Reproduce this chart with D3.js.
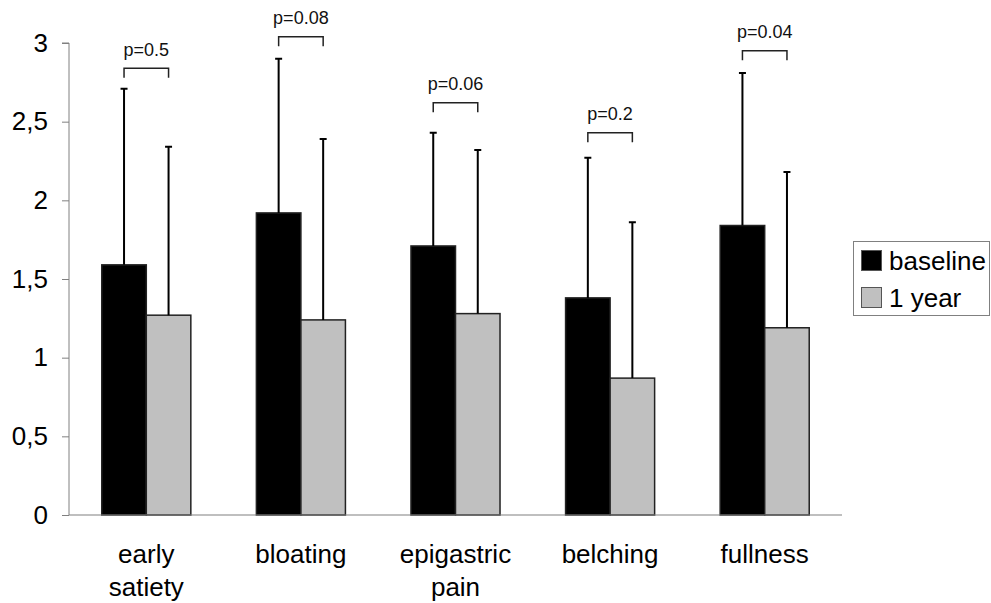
<!DOCTYPE html>
<html>
<head>
<meta charset="utf-8">
<script src="https://cdn.jsdelivr.net/npm/d3@7"></script>
<style>
  body { margin: 0; background: #fff; }
  svg { display: block; font-family: "Liberation Sans", Arial, sans-serif; }
</style>
</head>
<body>
<div id="chart"></div>
<script>
// symptom scores, baseline vs 1 year

const categories = ["early satiety", "bloating", "epigastric pain", "belching", "fullness"];
const categoryLines = [["early", "satiety"], ["bloating"], ["epigastric", "pain"], ["belching"], ["fullness"]];
const seriesNames = ["baseline", "1 year"];
const baselineValues = [1.59, 1.92, 1.71, 1.38, 1.84];
const yearValues = [1.27, 1.24, 1.28, 0.87, 1.19];
const baselineSD = [1.12, 0.98, 0.72, 0.89, 0.97];
const yearSD = [1.07, 1.15, 1.04, 0.99, 0.99];
const pLabels = ["p=0.5", "p=0.08", "p=0.06", "p=0.2", "p=0.04"];
const bracketLevels = [2.84, 3.04, 2.62, 2.43, 2.95];
const yTicks = [0, 0.5, 1, 1.5, 2, 2.5, 3];

const colors = {"baseline": "#000000", "1 year": "#c0c0c0"};

const W = 991, H = 603;
const plot = {left: 69, right: 842, top: 43, bottom: 515};

const svg = d3.select("#chart").append("svg")
    .attr("width", W)
    .attr("height", H);

const x0 = d3.scaleBand()
    .domain(categories)
    .range([plot.left, plot.right])
    .paddingInner(0.424)
    .paddingOuter(0.212);

const x1 = d3.scaleBand()
    .domain(seriesNames)
    .range([0, x0.bandwidth()]);

const y = d3.scaleLinear()
    .domain([0, 3])
    .range([plot.bottom, plot.top]);

const rows = categories.map((c, i) => ({
    cat: c,
    values: [
        {name: "baseline", v: baselineValues[i], sd: baselineSD[i]},
        {name: "1 year", v: yearValues[i], sd: yearSD[i]}
    ]
}));

// y axis
const yAxis = svg.append("g")
    .attr("transform", `translate(${plot.left},0)`)
    .call(d3.axisLeft(y).tickValues(yTicks).tickSize(7).tickPadding(14)
        .tickFormat(d => String(d).replace(".", ",")));
yAxis.select(".domain").attr("stroke", "#808080").attr("d", `M-7,${plot.top}H0V${plot.bottom}`);
yAxis.selectAll(".tick line").attr("stroke", "#808080");
yAxis.selectAll(".tick text")
    .attr("font-size", 26)
    .attr("fill", "#000")
    .style("font-family", "Liberation Sans, Arial, sans-serif");

// bars
const groups = svg.selectAll(".grp")
    .data(rows)
    .enter().append("g")
    .attr("class", "grp")
    .attr("transform", d => `translate(${x0(d.cat)},0)`);

groups.selectAll("rect")
    .data(d => d.values)
    .enter().append("rect")
    .attr("x", d => x1(d.name))
    .attr("y", d => y(d.v))
    .attr("width", x1.bandwidth())
    .attr("height", d => y(0) - y(d.v))
    .attr("fill", d => colors[d.name])
    .attr("stroke", "#222")
    .attr("stroke-width", 1.5);

// error bars (upper only)
const cap = 3.5;
groups.selectAll(".err")
    .data(d => d.values)
    .enter().append("path")
    .attr("class", "err")
    .attr("fill", "none")
    .attr("stroke", "#000")
    .attr("stroke-width", 2)
    .attr("d", d => {
        const cx = x1(d.name) + x1.bandwidth() / 2;
        const top = y(d.v + d.sd);
        return `M${cx},${y(d.v)}V${top}M${cx - cap},${top}H${cx + cap}`;
    });

// x axis line
svg.append("line")
    .attr("x1", plot.left).attr("x2", plot.right)
    .attr("y1", plot.bottom).attr("y2", plot.bottom)
    .attr("stroke", "#808080")
    .attr("stroke-width", 1.2);

// p-value brackets
groups.each(function(d, i) {
    const g = d3.select(this);
    const xa = x1("baseline") + x1.bandwidth() / 2;
    const xb = x1("1 year") + x1.bandwidth() / 2;
    const by = y(bracketLevels[i]);
    g.append("path")
        .attr("fill", "none")
        .attr("stroke", "#222")
        .attr("stroke-width", 1.5)
        .attr("d", `M${xa},${by + 9.5}V${by}H${xb}V${by + 9.5}`);
    g.append("text")
        .attr("x", (xa + xb) / 2)
        .attr("y", by - 12.5)
        .attr("text-anchor", "middle")
        .attr("font-size", 18)
        .attr("fill", "#111")
        .text(pLabels[i]);
});

// category labels
categories.forEach((c, i) => {
    const t = svg.append("text")
        .attr("x", x0(c) + x0.bandwidth() / 2)
        .attr("y", 563)
        .attr("text-anchor", "middle")
        .attr("font-size", 26)
        .attr("fill", "#000");
    categoryLines[i].forEach((line, j) => {
        t.append("tspan")
            .attr("x", x0(c) + x0.bandwidth() / 2)
            .attr("dy", j === 0 ? 0 : 33)
            .text(line);
    });
});

// legend
const legend = svg.append("g");
legend.append("rect")
    .attr("x", 853.5).attr("y", 241.5)
    .attr("width", 136).attr("height", 74)
    .attr("fill", "#fff")
    .attr("stroke", "#808080")
    .attr("stroke-width", 1);

seriesNames.forEach((s, i) => {
    const yy = 250 + i * 37;
    legend.append("rect")
        .attr("x", 861.5).attr("y", yy + 0.5)
        .attr("width", 20).attr("height", 20)
        .attr("fill", colors[s])
        .attr("stroke", "#555")
        .attr("stroke-width", 1);
    legend.append("text")
        .attr("x", 889)
        .attr("y", yy + 20)
        .attr("font-size", 26)
        .attr("fill", "#000")
        .text(s);
});
</script>
</body>
</html>
